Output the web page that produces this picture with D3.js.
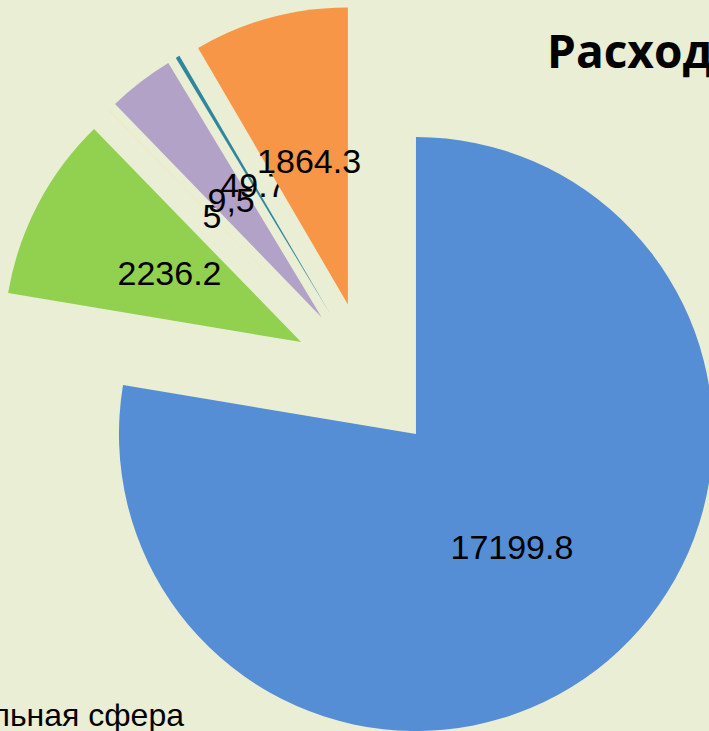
<!DOCTYPE html>
<html>
<head>
<meta charset="utf-8" />
<title>Расходы</title>
<script src="https://cdn.jsdelivr.net/npm/d3@7"></script>
<style>
    body { margin: 0; background: #e9eed5; overflow: hidden; }
    svg { display: block; }
    .label { font-family: "Liberation Sans", Arial, sans-serif; font-size: 34px; fill: #000; }
    .title { font-family: "Open Sans", sans-serif; font-weight: bold; font-size: 46px; fill: #000; }
    .legend { font-family: "Liberation Sans", Arial, sans-serif; font-size: 32px; fill: #000; }
</style>
</head>
<body>
<svg width="709" height="731"></svg>
<script>
    var categories = ["Социальная сфера", "Национальная экономика", "Охрана окружающей среды",
                      "Общегосударственные вопросы", "Национальная безопасность", "ЖКХ"];
    var values = [17199.8, 2236.2, 5, 800, 49.7, 1864.3];
    var labels = ["17199.8", "2236.2", "5", "9,5", "49.7", "1864.3"];
    var colors = ["#558ed5", "#92d050", "#ffe38a", "#b3a2c7", "#31859c", "#f79646"];

    var svg = d3.select("svg");
    var cx = 367.5, cy = 376.8, r = 297, explode = 75;

    var pie = d3.pie().sort(null).value(function (d) { return d; });
    var arc = d3.arc().innerRadius(0).outerRadius(r);
    var arcs = pie(values);

    function shift(d) {
        var a = (d.startAngle + d.endAngle) / 2;
        return [cx + explode * Math.sin(a), cy - explode * Math.cos(a)];
    }

    var g = svg.append("g");
    var slice = g.selectAll("g.slice").data(arcs).enter().append("g")
        .attr("class", "slice")
        .attr("transform", function (d) { return "translate(" + shift(d) + ")"; });

    slice.append("path")
        .attr("d", arc)
        .style("fill", function (d, i) { return colors[i]; });

    slice.append("text")
        .attr("class", "label")
        .attr("text-anchor", "middle")
        .attr("dy", "0.35em")
        .attr("transform", function (d) { return "translate(" + arc.centroid(d) + ")"; })
        .text(function (d, i) { return labels[i]; });

    svg.append("text").attr("class", "title")
        .attr("x", 547).attr("y", 68)
        .text("Расходы бюджета");

    svg.append("text").attr("class", "legend")
        .attr("x", 184).attr("y", 726)
        .attr("text-anchor", "end")
        .text(categories[0]);
</script>
</body>
</html>
